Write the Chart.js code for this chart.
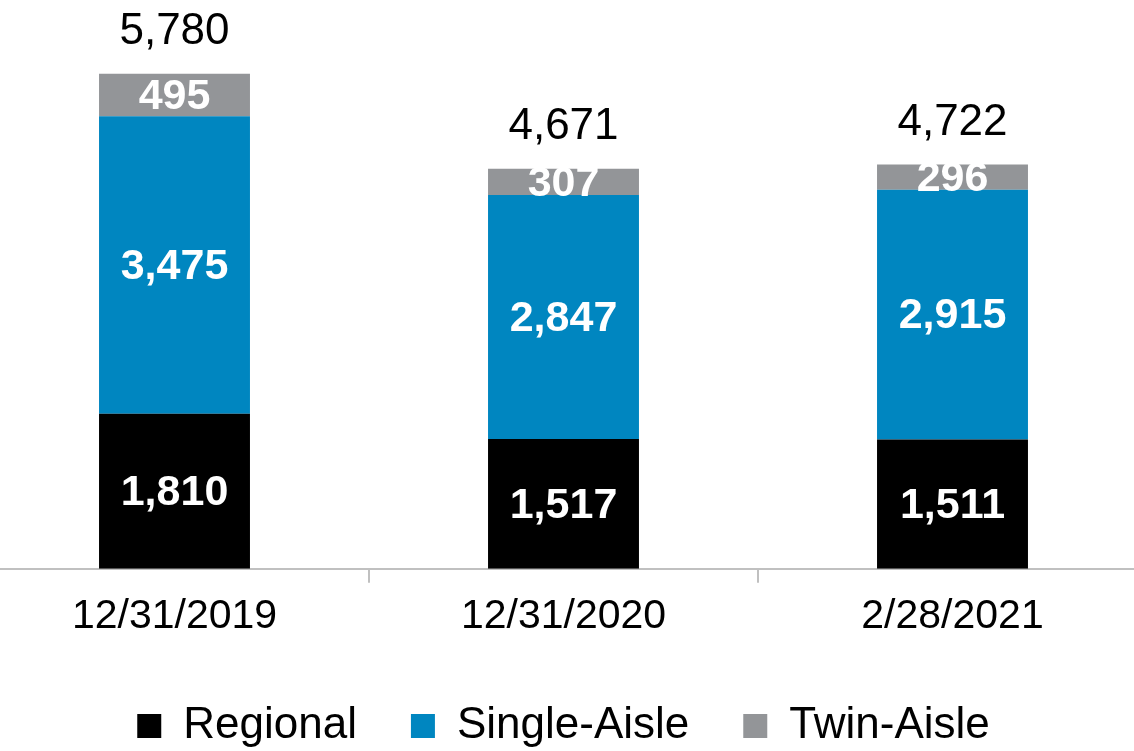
<!DOCTYPE html>
<html>
<head>
<meta charset="utf-8">
<script src="https://cdn.jsdelivr.net/npm/chart.js@4"></script>
<style>
  html, body { margin: 0; padding: 0; background: #fff; overflow: hidden; }
  #wrap { position: absolute; left: -20px; top: 0; width: 1167px; height: 758px; }
</style>
</head>
<body>
<div id="wrap"><canvas id="fleet-chart"></canvas></div>
<script>
const categories = ['12/31/2019', '12/31/2020', '2/28/2021'];
const regional = [1810, 1517, 1511];
const singleAisle = [3475, 2847, 2915];
const twinAisle = [495, 307, 296];

const FONT = '"Liberation Sans", Arial, sans-serif';

// write the segment values and the totals on the bars
const barLabels = {
  id: 'barLabels',
  afterDatasetsDraw(chart) {
    const ctx = chart.ctx;
    ctx.save();
    ctx.textAlign = 'center';
    ctx.textBaseline = 'middle';

    chart.data.datasets.forEach((ds, i) => {
      const meta = chart.getDatasetMeta(i);
      meta.data.forEach((bar, j) => {
        const y = (bar.y + bar.base) / 2;
        ctx.font = 'bold 43px ' + FONT;
        ctx.fillStyle = '#fff';
        ctx.fillText(ds.data[j].toLocaleString('en-US'), bar.x, y + 2);
      });
    });

    const last = chart.getDatasetMeta(chart.data.datasets.length - 1);
    last.data.forEach((bar, j) => {
      const total = chart.data.datasets.reduce((s, ds) => s + ds.data[j], 0);
      ctx.font = '44px ' + FONT;
      ctx.fillStyle = '#000';
      ctx.fillText(total.toLocaleString('en-US'), bar.x, bar.y - 42);
    });
    ctx.restore();
  }
};

new Chart(document.getElementById('fleet-chart'), {
  type: 'bar',
  data: {
    labels: categories,
    datasets: [
      { label: 'Regional', data: regional, backgroundColor: '#000000' },
      { label: 'Single-Aisle', data: singleAisle, backgroundColor: '#0086c0' },
      { label: 'Twin-Aisle', data: twinAisle, backgroundColor: '#939598' }
    ]
  },
  options: {
    responsive: true,
    maintainAspectRatio: false,
    animation: false,
    categoryPercentage: 1,
    barPercentage: 0.388,
    layout: { padding: { top: 55, bottom: 0 } },
    scales: {
      x: {
        stacked: true,
        grid: {
          offset: true,
          drawOnChartArea: false,
          drawTicks: true,
          tickLength: 14,
          color: '#c0c0c0',
          lineWidth: 2
        },
        border: { color: '#c0c0c0', width: 2 },
        ticks: {
          color: '#000',
          padding: 9,
          font: { family: FONT, size: 41 }
        }
      },
      y: {
        stacked: true,
        display: false,
        min: 0,
        max: 6000
      }
    },
    plugins: {
      tooltip: { enabled: false },
      legend: {
        position: 'bottom',
        labels: {
          color: '#000',
          boxWidth: 24,
          boxHeight: 24,
          padding: 54,
          font: { family: FONT, size: 44 }
        }
      }
    }
  },
  plugins: [barLabels]
});
</script>
</body>
</html>
